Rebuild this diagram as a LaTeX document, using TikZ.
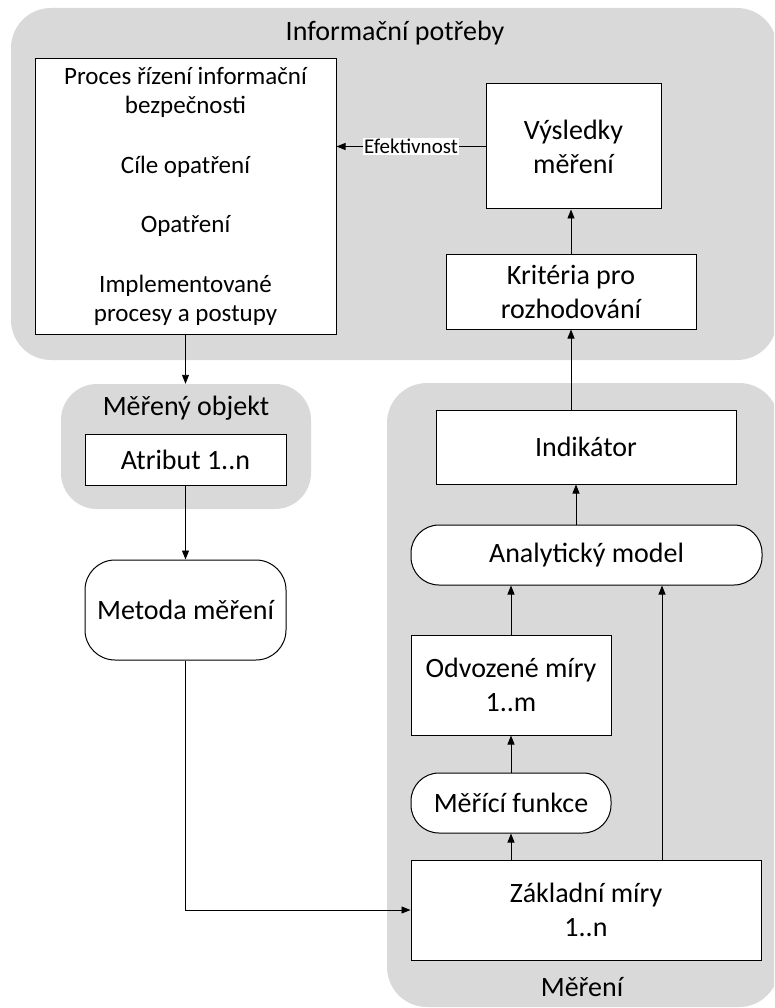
\documentclass[tikz,border=0pt]{standalone}
\usepackage{fontspec}
\setmainfont{Carlito}
\usetikzlibrary{arrows.meta}
\definecolor{panelgrey}{HTML}{D9D9D9}
\tikzset{
  panel/.style={fill=panelgrey, draw=none, rounded corners=40pt, inner sep=0pt},
  box/.style={draw=black, fill=white, line width=1pt, inner sep=2pt, align=center,
    font=\fontsize{28}{34}\selectfont},
  roundbox/.style={box, rounded corners=28pt},
  title/.style={font=\fontsize{28}{34}\selectfont, inner sep=0pt},
  arr/.style={line width=0.9pt, -{Triangle[length=9pt,width=7pt]}},
  link/.style={line width=0.9pt}
}
\begin{document}
\begin{tikzpicture}[x=1pt,y=-1pt]
\useasboundingbox (0,0) rectangle (774,1008);
\clip (0,0) rectangle (774,1008);

% grey panels
\node[panel, minimum width=766pt, minimum height=352pt] (infoReg) at (394,184) {};
\node[panel, rounded corners=36pt, minimum width=250pt, minimum height=125pt] (objReg) at (186,446.5) {};
\node[panel, minimum width=392pt, minimum height=624pt] (merReg) at (583,695) {};

% panel titles
\node[title] (infoTitle) at (395,33) {Informační potřeby};
\node[title] (objTitle) at (186,408) {Měřený objekt};
\node[title] (merTitle) at (582,987) {Měření};

% boxes
\node[box, minimum width=301pt, minimum height=275pt,
  font=\fontsize{25}{29}\selectfont] (proc) at (185.5,196.5)
  {Proces řízení informační\\bezpečnosti\\[31pt]Cíle opatření\\[30pt]Opatření\\[31pt]Implementované\\procesy a postupy};
\node[box, minimum width=175pt, minimum height=125pt] (res) at (573.5,146.5) {Výsledky\\měření};
\node[box, minimum width=250pt, minimum height=75pt] (krit) at (571,291.5) {Kritéria pro\\rozhodování};
\node[box, minimum width=201pt, minimum height=51pt] (attr) at (185.5,459.5) {Atribut 1..n};
\node[roundbox, rounded corners=30pt, minimum width=201pt, minimum height=100pt] (meth) at (185.5,610) {Metoda měření};
\node[box, minimum width=300pt, minimum height=74pt] (ind) at (586,447) {Indikátor};
\node[roundbox, minimum width=351pt, minimum height=60pt] (ana) at (586.5,555) {Analytický model};
\node[box, minimum width=200pt, minimum height=100pt] (der) at (511,685) {Odvozené míry\\1..m};
\node[roundbox, minimum width=200pt, minimum height=60pt] (fun) at (511,803) {Měřící funkce};
\node[box, minimum width=350pt, minimum height=100pt] (base) at (586,910) {Základní míry\\1..n};

% connector columns
\coordinate (colA) at (576,0);
\coordinate (colB) at (662,0);

% connectors
\draw[arr] (res.west) -- node[fill=white, inner sep=1pt, font=\fontsize{21}{24}\selectfont] {Efektivnost} (res.west -| proc.east);
\draw[arr] (krit.north) -- (krit.north |- res.south);
\draw[arr] (ind.north -| krit) -- (krit.south);
\draw[arr] (ana.north -| colA) -- (ind.south -| colA);
\draw[arr] (der.north) -- (der.north |- ana.south);
\draw[arr] (fun.north) -- (der.south);
\draw[arr] (base.north -| fun) -- (fun.south);
\draw[arr] (base.north -| colB) -- (ana.south -| colB);
\draw[arr] (proc.south) -- (proc.south |- objReg.north);
\draw[arr] (attr.south) -- (meth.north);
\draw[arr] (meth.south) |- (base.west);
\end{tikzpicture}
\end{document}
